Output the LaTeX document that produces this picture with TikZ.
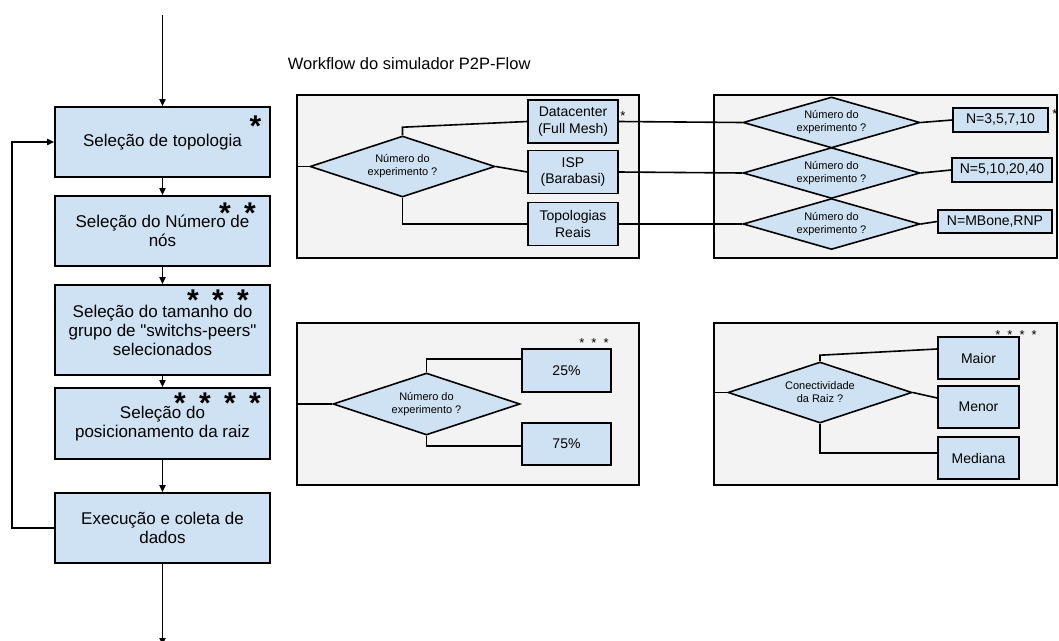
\documentclass[tikz,border=0pt]{standalone}
\usepackage{fontspec}
\setmainfont{Liberation Sans}
\usetikzlibrary{shapes.geometric,arrows.meta}
\definecolor{boxblue}{HTML}{CFE2F3}
\definecolor{panelgray}{HTML}{F3F3F3}
\newcommand{\bigstarsep}{\hspace{13.3pt}}
\newcommand{\smallstarsep}{\hspace{7pt}}
\begin{document}
\begin{tikzpicture}[x=1pt,y=-1pt,
  line width=1.6pt,
  mainbox/.style={draw, fill=boxblue, line width=1.6pt, minimum width=215pt, align=center, inner sep=0pt, font=\fontsize{17}{19}\selectfont},
  subbox/.style={draw, fill=boxblue, line width=1.6pt, align=center, inner sep=0pt, font=\fontsize{14}{16.5}\selectfont},
  panel/.style={draw, fill=panelgray, line width=1.6pt, inner sep=0pt},
  decision/.style={diamond, draw, fill=boxblue, line width=1.6pt, aspect=3, inner sep=0pt, align=center, font=\fontsize{11}{13}\selectfont},
  bigstar/.style={anchor=base, inner sep=0pt, font=\fontsize{30}{30}\selectfont\bfseries},
  smallstar/.style={anchor=base, inner sep=0pt, font=\fontsize{13}{13}\selectfont},
  titletext/.style={anchor=west, inner sep=0pt, font=\fontsize{16.5}{18}\selectfont},
  conn/.style={line width=1.6pt},
  arr/.style={line width=1.6pt, -{Triangle[length=7pt,width=6pt]}}
]
\useasboundingbox (0,0) rectangle (1059,640);
\clip (0,0) rectangle (1059,640);

% title
\node[titletext] (title) at (287,64) {Workflow do simulador P2P-Flow};

% panels
\node[panel, minimum width=342pt, minimum height=163pt] (p1) at (468,176.5) {};
\node[panel, minimum width=343pt, minimum height=163pt] (p2) at (885.5,176.5) {};
\node[panel, minimum width=342pt, minimum height=162pt] (p3) at (468,404) {};
\node[panel, minimum width=343pt, minimum height=162pt] (p4) at (885.5,404) {};

% main column
\coordinate (topstart) at (162.5,15);
\coordinate (botend) at (162.5,645);
\node[mainbox, minimum height=70pt] (b1) at (162.5,142) {Seleção de topologia};
\node[mainbox, minimum height=70pt] (b2) at (162.5,231) {Seleção do Número de\\nós};
\node[mainbox, minimum height=90pt] (b3) at (162.5,330) {Seleção do tamanho do\\grupo de \textquotedbl switchs-peers\textquotedbl\\selecionados};
\node[mainbox, minimum height=71pt] (b4) at (162.5,423.5) {Seleção do\\posicionamento da raiz};
\node[mainbox, minimum height=70pt] (b5) at (162.5,528) {Execução e coleta de\\dados};

\node[bigstar] (s1) at (255.5,136) {*};
\node[bigstar] (s2) at (237.5,223.5) {*\bigstarsep*};
\node[bigstar] (s3) at (218,310.5) {*\bigstarsep*\bigstarsep*};
\node[bigstar] (s4) at (217.5,413) {*\bigstarsep*\bigstarsep*\bigstarsep*};

% panel 1
\node[decision, minimum width=185pt, minimum height=61pt] (d1) at (402.5,166.5) {Número do\\experimento ?};
\node[subbox, minimum width=90pt, minimum height=43pt] (dc) at (573,121.5) {Datacenter\\(Full Mesh)};
\node[subbox, minimum width=90pt, minimum height=43pt] (isp) at (573,172) {ISP\\(Barabasi)};
\node[subbox, minimum width=90pt, minimum height=43pt] (tr) at (573,224) {Topologias\\Reais};
\node[smallstar] (st1) at (623,120) {*};

% panel 2
\node[decision, minimum width=177pt, minimum height=51pt] (e1) at (831.5,122.5) {Número do\\experimento ?};
\node[decision, minimum width=177pt, minimum height=51pt] (e2) at (831.5,173) {Número do\\experimento ?};
\node[decision, minimum width=177pt, minimum height=51pt] (e3) at (831.5,224) {Número do\\experimento ?};
\node[subbox, minimum width=95pt, minimum height=24pt] (n1) at (1000.5,120) {N=3,5,7,10};
\node[subbox, minimum width=100pt, minimum height=24pt] (n2) at (1002,170) {N=5,10,20,40};
\node[subbox, minimum width=114pt, minimum height=23pt] (n3) at (995,221.5) {N=MBone,RNP};
\node[smallstar] (st2) at (1055,118) {*};

% panel 3
\node[decision, minimum width=187pt, minimum height=62pt] (d3) at (426.5,404) {Número do\\experimento ?};
\node[subbox, minimum width=89pt, minimum height=43pt] (q25) at (566.5,370.5) {25\%};
\node[subbox, minimum width=89pt, minimum height=42pt] (q75) at (566.5,444) {75\%};
\node[smallstar] (st3) at (594,347.5) {*\smallstarsep*\smallstarsep*};

% panel 4
\node[decision, minimum width=184pt, minimum height=61pt] (d4) at (820,392.5) {Conectividade\\da Raiz ?};
\node[subbox, minimum width=81pt, minimum height=42pt] (maior) at (978.5,358) {Maior};
\node[subbox, minimum width=81pt, minimum height=42pt] (menor) at (978.5,407) {Menor};
\node[subbox, minimum width=81pt, minimum height=42pt] (mediana) at (978.5,458) {Mediana};
\node[smallstar] (st4) at (1016,339) {*\smallstarsep*\smallstarsep*\smallstarsep*};

% main column connectors
\draw[arr] (topstart) -- (b1.north);
\draw[arr] (b1.south) -- (b2.north);
\draw[arr] (b2.south) -- (b3.north);
\draw[arr] (b3.south) -- (b4.north);
\draw[arr] (b4.south) -- (b5.north);
\draw[arr] (b5.west) -- ++(-42,0) |- (b1.west);
\draw[arr] (b5.south) -- (botend);

% panel 1 connectors
\draw[conn] (d1.west -| p1.west) -- (d1.west);
\draw[conn] (d1.north) -- ++(0,-8) -- (dc.west);
\draw[conn] (d1.east) -- (isp.west);
\draw[conn] (d1.south) |- (tr.west);
\draw[conn] (dc.east) -- (e1.west);
\draw[conn] (isp.east) -- (e2.west);
\draw[conn] (tr.east) -- (e3.west);

% panel 2 connectors
\draw[conn] (e1.east) -- (n1.west);
\draw[conn] (e2.east) -- (n2.west);
\draw[conn] (e3.east) -- (n3.west);

% panel 3 connectors
\draw[conn] (d3.west -| p3.west) -- (d3.west);
\draw[conn] (d3.north) |- ([yshift=11.5pt]q25.west);
\draw[conn] (d3.south) |- ([yshift=-2pt]q75.west);

% panel 4 connectors
\draw[conn] (d4.west -| p4.west) -- (d4.west);
\draw[conn] (d4.north) -- ++(0,-6) -- ([yshift=9pt]maior.west);
\draw[conn] (d4.east) -- ([yshift=9pt]menor.west);
\draw[conn] (d4.south) |- ([yshift=5pt]mediana.west);
\end{tikzpicture}
\end{document}
